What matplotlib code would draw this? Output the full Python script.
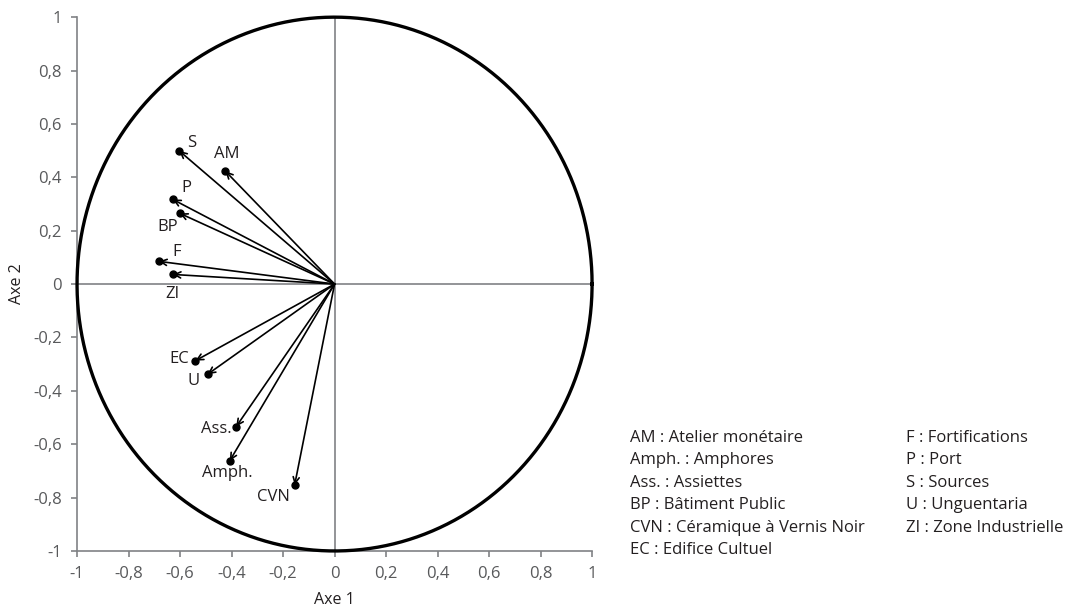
import numpy as np
import matplotlib
matplotlib.use("Agg")
import matplotlib.pyplot as plt

plt.rcParams['font.family'] = ['Open Sans', 'DejaVu Sans']

# variables (coordonnees sur les axes 1 et 2)
names = ['S', 'AM', 'P', 'BP', 'F', 'ZI', 'EC', 'U', 'Ass.', 'Amph.', 'CVN']
axe1 = [-0.603, -0.424, -0.628, -0.601, -0.682, -0.628, -0.540, -0.493, -0.382, -0.407, -0.155]
axe2 = [0.499, 0.423, 0.317, 0.265, 0.085, 0.036, -0.287, -0.338, -0.534, -0.662, -0.753]

# decalage des etiquettes (points)
offsets = {'S': (9, 6), 'AM': (1, 12), 'P': (10, 8), 'BP': (-9, -9.5),
           'F': (13, 7), 'ZI': (0, -14), 'EC': (-12, 1), 'U': (-10, -5),
           'Ass.': (-14, -2), 'Amph.': (-2, -8.5), 'CVN': (-15, -8.5)}

ticks = [-1, -0.8, -0.6, -0.4, -0.2, 0, 0.2, 0.4, 0.6, 0.8, 1]
tick_labels = ['-1', '-0,8', '-0,6', '-0,4', '-0,2', '0', '0,2', '0,4', '0,6', '0,8', '1']

legend_col1 = ['AM : Atelier monétaire', 'Amph. : Amphores', 'Ass. : Assiettes',
               'BP : Bâtiment Public', 'CVN : Céramique à Vernis Noir', 'EC : Edifice Cultuel']
legend_col2 = ['F : Fortifications', 'P : Port', 'S : Sources',
               'U : Unguentaria', 'ZI : Zone Industrielle']

fig = plt.figure(figsize=(10.67, 6.08), dpi=100)
ax = fig.add_axes([0.0722, 0.0938, 0.4827, 0.878])

grey = '#808285'
dark = '#231f20'

# cercle des correlations
t = np.linspace(0, 2 * np.pi, 400)
ax.plot(np.cos(t), np.sin(t), color='black', lw=2.4, zorder=3, clip_on=False)

# axes du cercle
ax.plot([-1, 1], [0, 0], color=grey, lw=1.2, zorder=1)
ax.plot([0, 0], [-1, 1], color=grey, lw=1.2, zorder=1)

for n, x, y in zip(names, axe1, axe2):
    ax.annotate('', xy=(x, y), xytext=(0, 0),
                arrowprops=dict(arrowstyle='->', color='black', lw=1.2,
                                shrinkA=0, shrinkB=0, mutation_scale=11),
                zorder=4)
    ax.plot(x, y, 'o', color='black', ms=5, zorder=5)
    dx, dy = offsets[n]
    ax.annotate(n, xy=(x, y), xytext=(dx, dy), textcoords='offset points',
                ha='center', va='center', fontsize=12, color=dark)

ax.set_xlim(-1, 1)
ax.set_ylim(-1, 1)
ax.set_xticks(ticks)
ax.set_xticklabels(tick_labels)
ax.set_yticks(ticks)
ax.set_yticklabels(tick_labels)
for s in ['top', 'right']:
    ax.spines[s].set_visible(False)
for s in ['left', 'bottom']:
    ax.spines[s].set_color(grey)
    ax.spines[s].set_linewidth(1.2)
ax.tick_params(direction='out', length=4, width=1.2, color=grey,
               labelsize=12, labelcolor='#58595b', pad=7)
ax.set_xlabel('Axe 1', fontsize=11.5, color=dark, labelpad=7)
ax.set_ylabel('Axe 2', fontsize=11.5, color=dark, labelpad=6)

for i, s in enumerate(legend_col1):
    fig.text(630 / 1067, 1 - (438 + i * 22.4) / 608, s, fontsize=12,
             color=dark, va='center', ha='left')
for i, s in enumerate(legend_col2):
    fig.text(906 / 1067, 1 - (438 + i * 22.4) / 608, s, fontsize=12,
             color=dark, va='center', ha='left')

fig.savefig('out.png', dpi=100)
